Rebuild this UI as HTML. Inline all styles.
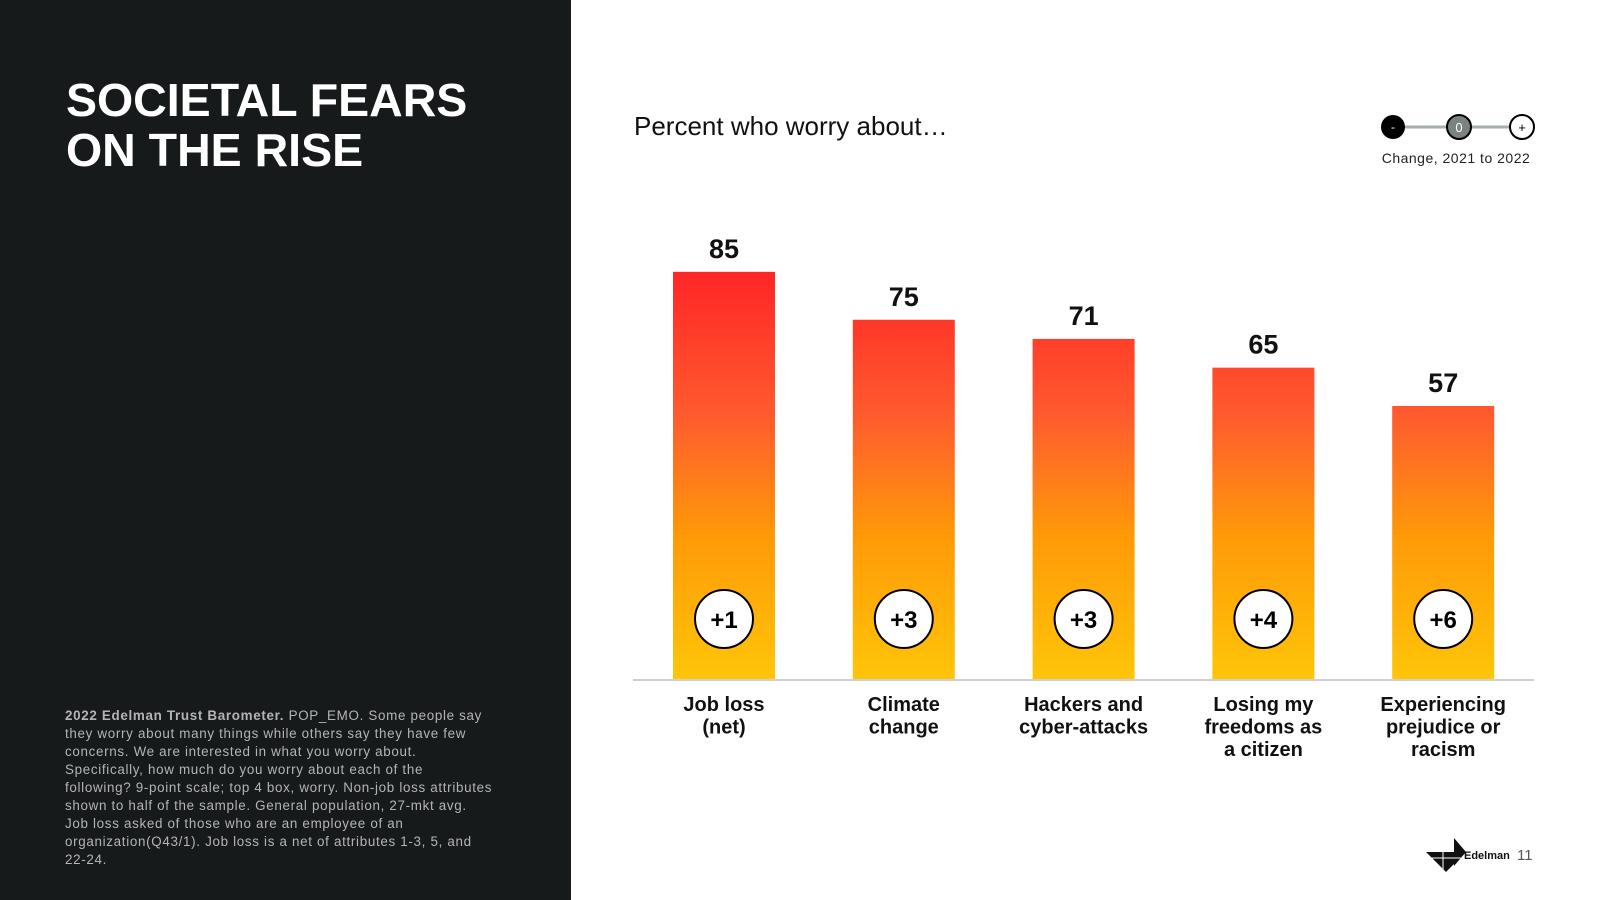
<!DOCTYPE html>
<html><head><meta charset="utf-8"><style>
html,body{margin:0;padding:0;width:1600px;height:900px;overflow:hidden;background:#fff;font-family:"Liberation Sans",Arial,sans-serif}
</style></head><body>
<svg width="1600" height="900" viewBox="0 0 1600 900" xmlns="http://www.w3.org/2000/svg">
<defs>
<linearGradient id="g" gradientUnits="userSpaceOnUse" x1="0" y1="272" x2="0" y2="679">
<stop offset="0" stop-color="#ff2626"/>
<stop offset="0.35" stop-color="#ff5a2e"/>
<stop offset="0.65" stop-color="#ff9a08"/>
<stop offset="1" stop-color="#ffc508"/>
</linearGradient>
</defs>
<rect x="0" y="0" width="571" height="900" fill="#171a1b"/>
<text x="66" y="116" fill="#fff" font-size="46.5" font-weight="bold">SOCIETAL FEARS</text>
<text x="66" y="166" fill="#fff" font-size="46.5" font-weight="bold">ON THE RISE</text>
<g fill="#b4b4b4" font-size="13.4" letter-spacing="0.68">
<text x="65" y="720"><tspan font-weight="bold">2022 Edelman Trust Barometer.</tspan> POP_EMO. Some people say</text>
<text x="65" y="738">they worry about many things while others say they have few</text>
<text x="65" y="756">concerns. We are interested in what you worry about.</text>
<text x="65" y="774">Specifically, how much do you worry about each of the</text>
<text x="65" y="792">following? 9-point scale; top 4 box, worry. Non-job loss attributes</text>
<text x="65" y="810">shown to half of the sample. General population, 27-mkt avg.</text>
<text x="65" y="828">Job loss asked of those who are an employee of an</text>
<text x="65" y="846">organization(Q43/1). Job loss is a net of attributes 1-3, 5, and</text>
<text x="65" y="864">22-24.</text>
</g>
<text x="634" y="135" font-size="26" fill="#111">Percent who worry about…</text>
<g>
<line x1="1393" y1="127" x2="1522" y2="127" stroke="#a8adad" stroke-width="3"/>
<circle cx="1393" cy="127" r="12" fill="#000"/>
<text x="1393" y="131" fill="#fff" font-size="12" text-anchor="middle">-</text>
<circle cx="1459" cy="127" r="12" fill="#7a8381" stroke="#000" stroke-width="2"/>
<text x="1459" y="132" fill="#fff" font-size="13" text-anchor="middle">0</text>
<circle cx="1522" cy="127" r="12" fill="#fff" stroke="#000" stroke-width="2"/>
<text x="1522" y="132" fill="#000" font-size="13" text-anchor="middle">+</text>
<text x="1456" y="163" font-size="14" fill="#222" text-anchor="middle" letter-spacing="0.5">Change, 2021 to 2022</text>
</g>
<g id="chart"></g>
<line x1="633" y1="680" x2="1534" y2="680" stroke="#d0d0d0" stroke-width="2"/>
<g>
<polygon points="1426,852 1454,852 1454,864 1446,872" fill="#111"/>
<polygon points="1454,838 1454,866 1466,852" fill="#111"/>
<line x1="1443" y1="852" x2="1443" y2="870" stroke="#fff" stroke-width="1"/>
<line x1="1430" y1="858" x2="1462" y2="858" stroke="#fff" stroke-width="1"/>
<text x="1464" y="859" font-size="11" font-weight="bold" fill="#111">Edelman</text>
<text x="1517" y="860" font-size="15" fill="#555">11</text>
</g>
</svg>
<script>
const categories=[["Job loss","(net)"],["Climate","change"],["Hackers and","cyber-attacks"],["Losing my","freedoms as","a citizen"],["Experiencing","prejudice or","racism"]];
const values=[85,75,71,65,57];
const changes=["+1","+3","+3","+4","+6"];
const NS="http://www.w3.org/2000/svg";
const g=document.getElementById('chart');
const y0=679, pxPer=4.79, x0=724, step=179.8, bw=102;
function xScale(i){return x0+i*step;}
function yScale(v){return y0-v*pxPer;}
function mk(t,a){const e=document.createElementNS(NS,t);for(const k in a)e.setAttribute(k,a[k]);g.appendChild(e);return e;}
values.forEach((v,i)=>{
 const cx=xScale(i);
 const r=mk('rect',{x:cx-bw/2,y:yScale(v),width:bw,height:y0-yScale(v),fill:'url(#g)'});
 
 
 const t=mk('text',{x:cx,y:yScale(v)-14,'font-size':27,'font-weight':'bold','text-anchor':'middle',fill:'#111'});
 t.textContent=v;
 
 
 const c=mk('circle',{cx:cx,cy:619,r:29,fill:'#fff',stroke:'#000','stroke-width':2});
 
 
 const ct=mk('text',{x:cx,y:628,'font-size':24,'font-weight':'bold','text-anchor':'middle',fill:'#000'});
 ct.textContent=changes[i];
 
 
 categories[i].forEach((ln,j)=>{
  const l=mk('text',{x:cx,y:711+j*22.5,'font-size':20,'font-weight':'bold','text-anchor':'middle',fill:'#111'});
  l.textContent=ln;
  
  
 });
});
</script>
</body></html>
